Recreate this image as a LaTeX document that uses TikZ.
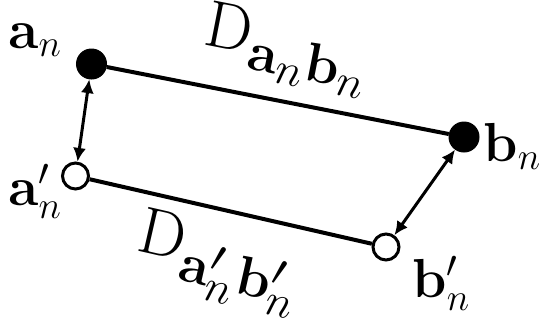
\documentclass[tikz,border=0pt]{standalone}
\usepackage{amsmath}
\usetikzlibrary{
    arrows.meta,
    positioning
}
\tikzset{
  fullpt/.style = {draw, circle, fill=black, minimum size=12pt, inner sep=0pt},
  openpt/.style = {draw, circle, fill=white, line width=1.2pt,
                   minimum size=10.4pt, inner sep=0pt},
  lbl/.style    = {inner sep=0pt, font=\huge, scale=1.06, transform shape},
  dlbl/.style   = {inner sep=0pt, font=\Huge, scale=1.06, transform shape, sloped},
  link/.style   = {line width=1.6pt},
  dbl/.style    = {{Latex[length=5.5pt,width=5.2pt]}-{Latex[length=5.5pt,width=5.2pt]},
                   line width=1.2pt}
}

\begin{document}
\begin{tikzpicture}[x=0.4pt, y=-0.4pt]
\useasboundingbox (0,0) rectangle (551,321);

% the four points
\node[fullpt] (an)  at (91.5,64) {};
\node[fullpt] (bn)  at (464,137) {};
\node[openpt] (apn) at (75.5,176) {};
\node[openpt] (bpn) at (386,247) {};

% their labels
\node[lbl, anchor=base west] (lan)  at (8,48)    {$\mathbf{a}_n$};
\node[lbl, anchor=base west] (lbn)  at (483,161) {$\mathbf{b}_n$};
\node[lbl, anchor=base west] (lapn) at (8,205)   {$\mathbf{a}'_n$};
\node[lbl, anchor=base west] (lbpn) at (412,297) {$\mathbf{b}'_n$};

% distances
\draw[link] (an) -- node[dlbl, above=6pt, pos=0.5] (dab)
    {$\mathrm{D}_{\mathbf{a}_n\mathbf{b}_n}$} (bn);
\draw[link] (apn) -- node[dlbl, below=5pt, pos=0.5] (dapbp)
    {$\mathrm{D}_{\mathbf{a}'_n\mathbf{b}'_n}$} (bpn);

% correspondences
\draw[dbl] (an) -- (apn);
\draw[dbl] (bn) -- (bpn);
\end{tikzpicture}
\end{document}
